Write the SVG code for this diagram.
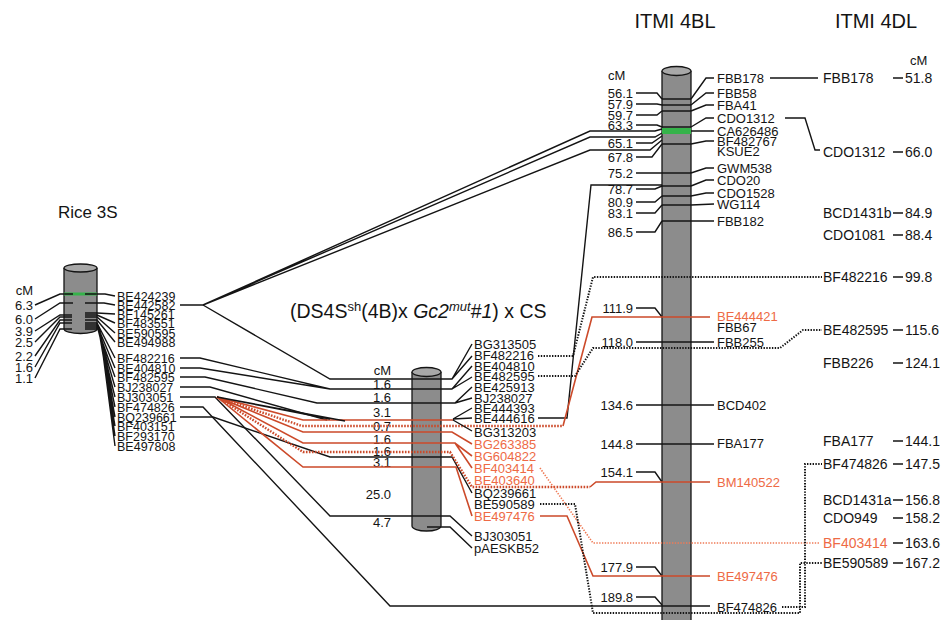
<svg xmlns="http://www.w3.org/2000/svg" width="944" height="620" viewBox="0 0 944 620">
<style>
text{font-family:"Liberation Sans",Arial,sans-serif;fill:#141414}
.t{font-size:13px}
.s{font-size:12.5px}
.t4{font-size:14px}
.e{text-anchor:end}
.rt{fill:#ee6a45}
.ttl{font-size:20px}
.k{fill:none;stroke:#141414;stroke-width:1.4}
.r{fill:none;stroke:#cc4a2a;stroke-width:1.6}
.rd{fill:none;stroke:#cc4a2a;stroke-width:2.4;stroke-dasharray:1.6 1.4}
.rdt{fill:none;stroke:#ef7a55;stroke-width:1.6;stroke-dasharray:1.4 1.4}
.kd{fill:none;stroke:#141414;stroke-width:2;stroke-dasharray:1.4 1.4}
.body{fill:#8c8c8c}
.top{fill:#a8a8a8;stroke:#141414;stroke-width:1.3}
.out{fill:none;stroke:#141414;stroke-width:1.3}
.grn{fill:#35b34a}
</style>

<g id="rice3S">
  <text x="58" y="218" style="font-size:17px">Rice 3S</text>
  <rect class="body" x="64" y="268" width="33" height="61"/>
  <path class="body" d="M64,329 A16.5,4.5 0 0 0 97,329 Z"/>
  <path class="out" d="M64,268 V329 A16.5,4.5 0 0 0 97,329 V268"/>
  <ellipse class="top" cx="80.5" cy="268" rx="16.5" ry="4"/>
  <rect class="grn" x="64" y="292.5" width="33" height="3"/>
  <text class="t e" x="33" y="295">cM</text>
  <text class="t e" x="33" y="309.5">6.3</text>
  <text class="t e" x="33" y="323.5">6.0</text>
  <text class="t e" x="33" y="335.5">3.9</text>
  <text class="t e" x="33" y="346.5">2.5</text>
  <text class="t e" x="33" y="360.5">2.2</text>
  <text class="t e" x="33" y="371.5">1.6</text>
  <text class="t e" x="33" y="382.5">1.1</text>
  <path class="k" d="M35,305 L60,294 H73 M35,319 L60,303 H73 M35,331 L60,315 H72 M35,342 L60,317 H72 M35,356 L60,320 H72 M35,367 L60,323 H72 M35,378 L60,329 H72"/>
  <path class="k" d="M85,294 H105 L115,296 M85,303 H104 L115,305 M85,313 H97 L115,314 M85,315 H97 L115,323 M85,317 H97 L115,333 M85,320 H97 L115,342 M85,323 H97 L115,358 M85,325 H97 L115,368 M85,327 H97 L115,377 M85,329 H98 L115,387 M98,329 L115,397 M99,330 L115,407 M99,330 L115,417 M99,331 L115,426 M100,331 L115,436 M100,331 L115,446"/>
  <text class="t s" x="117" y="300.5">BE424239</text>
  <text class="t s" x="117" y="309.5">BE442582</text>
  <text class="t s" x="117" y="318.5">BF145261</text>
  <text class="t s" x="117" y="327.5">BF483551</text>
  <text class="t s" x="117" y="337.5">BE590595</text>
  <text class="t s" x="117" y="346.5">BE494988</text>
  <text class="t s" x="117" y="362.5">BF482216</text>
  <text class="t s" x="117" y="372.5">BE404810</text>
  <text class="t s" x="117" y="381.5">BF482595</text>
  <text class="t s" x="117" y="391.5">BJ238027</text>
  <text class="t s" x="117" y="401.5">BJ303051</text>
  <text class="t s" x="117" y="411.5">BF474826</text>
  <text class="t s" x="117" y="421.5">BQ239661</text>
  <text class="t s" x="117" y="430.5">BF403151</text>
  <text class="t s" x="117" y="440.5">BF293170</text>
  <text class="t s" x="117" y="450.5">BE497808</text>
</g>

<g id="ds4s-map">
  <text x="290" y="318" style="font-size:19.5px">(DS4S<tspan dy="-7" style="font-size:13px">sh</tspan><tspan dy="7">(4B)x </tspan><tspan font-style="italic">Gc2</tspan><tspan dy="-7" style="font-size:13px" font-style="italic">mut</tspan><tspan dy="7">#</tspan><tspan font-style="italic">1</tspan>) x CS</text>
  <rect class="body" x="412" y="372" width="29" height="154"/>
  <path class="body" d="M412,526 A14.5,5 0 0 0 441,526 Z"/>
  <path class="out" d="M412,372 V526 A14.5,5 0 0 0 441,526 V372"/>
  <ellipse class="top" cx="426.5" cy="372" rx="14.5" ry="4.5"/>
  <text class="t e" x="391" y="374.5">cM</text>
  <text class="t e" x="391" y="388.5">1.6</text>
  <text class="t e" x="391" y="401.5">1.6</text>
  <text class="t e" x="391" y="416.5">3.1</text>
  <text class="t e" x="391" y="430.5">0.7</text>
  <text class="t e" x="391" y="443.5">1.6</text>
  <text class="t e" x="391" y="455.5">1.6</text>
  <text class="t e" x="391" y="467">3.1</text>
  <text class="t e" x="391" y="498.5">25.0</text>
  <text class="t e" x="391" y="526.5">4.7</text>
  <text class="t" x="474" y="348.5">BG313505</text>
  <text class="t" x="474" y="359.5">BF482216</text>
  <text class="t" x="474" y="370.5">BE404810</text>
  <text class="t" x="474" y="380.5">BE482595</text>
  <text class="t" x="474" y="391.5">BE425913</text>
  <text class="t" x="474" y="402.5">BJ238027</text>
  <text class="t" x="474" y="412.5">BE444393</text>
  <text class="t" x="474" y="422.5">BE444616</text>
  <text class="t" x="474" y="436.5">BG313203</text>
  <text class="t rt" x="474" y="448.5">BG263385</text>
  <text class="t rt" x="474" y="460.5">BG604822</text>
  <text class="t rt" x="474" y="472.5">BF403414</text>
  <text class="t rt" x="474" y="484.5">BE403640</text>
  <text class="t" x="474" y="497.5">BQ239661</text>
  <text class="t" x="474" y="508.5">BE590589</text>
  <text class="t rt" x="474" y="520.5">BE497476</text>
  <text class="t" x="474" y="540.5">BJ303051</text>
  <text class="t" x="474" y="552.5">pAESKB52</text>
</g>

<g id="itmi4BL">
  <text class="ttl" x="675" y="28" text-anchor="middle">ITMI 4BL</text>
  <rect class="body" x="662" y="71" width="29" height="549"/>
  <path class="out" d="M662,71 V620 M691,71 V620"/>
  <ellipse class="top" cx="676.5" cy="71" rx="14.5" ry="4.5"/>
  <rect class="grn" x="662" y="128" width="29" height="6"/>
  <path class="k" d="M662,99 H691 M662,105 H691 M662,111 H691 M662,127 H691 M662,144 H691 M662,173 H691 M662,186 H691 M662,196 H691 M662,205 H691 M662,221 H691"/>
  <text class="t" x="608" y="80">cM</text>
  <text class="t e" x="633" y="97.5">56.1</text>
  <text class="t e" x="633" y="108.5">57.9</text>
  <text class="t e" x="633" y="119.5">59.7</text>
  <text class="t e" x="633" y="129.5">63.3</text>
  <text class="t e" x="633" y="147.5">65.1</text>
  <text class="t e" x="633" y="161.5">67.8</text>
  <text class="t e" x="633" y="177.5">75.2</text>
  <text class="t e" x="633" y="194">78.7</text>
  <text class="t e" x="633" y="206.5">80.9</text>
  <text class="t e" x="633" y="217.5">83.1</text>
  <text class="t e" x="633" y="236.5">86.5</text>
  <text class="t e" x="633" y="312.5">111.9</text>
  <text class="t e" x="633" y="346.5">118.0</text>
  <text class="t e" x="633" y="409.5">134.6</text>
  <text class="t e" x="633" y="448.5">144.8</text>
  <text class="t e" x="633" y="476.5">154.1</text>
  <text class="t e" x="633" y="571.5">177.9</text>
  <text class="t e" x="633" y="601.5">189.8</text>
  <path class="k" d="M636,93 H657 L662,99 M636,104 H657 L662,105 M636,115 H657 L662,111 M636,125 H657 L662,127 M636,143 H652 L662,136 M636,157 H652 L662,144 M636,173 H662 M636,189 H655 L662,186 M636,202 H655 L662,196 M636,213 H655 L662,205 M636,232 H655 L662,221 M636,308 H655 L662,317 M636,342 H714 M636,405 H714 M636,444 H714 M636,472 H655 L662,482 M636,567 H655 L662,576 M636,597 H655 L662,605"/>
  <path class="k" d="M714,78 H706 L691,99 M714,93 H706 L691,105 M714,105 H706 L691,111 M714,118 H706 L691,127 M714,131 H706 L691,131 M714,141 H706 L691,144 M714,168 H706 L691,173 M714,180 H706 L691,186 M714,193 H706 L691,196 M714,204 L691,205 M714,221 H691"/>
  <text class="t" x="717" y="82.5">FBB178</text>
  <text class="t" x="717" y="97.5">FBB58</text>
  <text class="t" x="717" y="109.5">FBA41</text>
  <text class="t" x="717" y="122.5">CDO1312</text>
  <text class="t" x="717" y="135.5">CA626486</text>
  <text class="t" x="717" y="145.5">BF482767</text>
  <text class="t" x="717" y="155.5">KSUE2</text>
  <text class="t" x="717" y="172.5">GWM538</text>
  <text class="t" x="717" y="184.5">CDO20</text>
  <text class="t" x="717" y="197.5">CDO1528</text>
  <text class="t" x="717" y="208.5">WG114</text>
  <text class="t" x="717" y="225.5">FBB182</text>
  <text class="t rt" x="717" y="321">BE444421</text>
  <text class="t" x="717" y="332">FBB67</text>
  <text class="t" x="717" y="346.5">FBB255</text>
  <text class="t" x="717" y="409.5">BCD402</text>
  <text class="t" x="717" y="448">FBA177</text>
  <text class="t rt" x="717" y="486.5">BM140522</text>
  <text class="t rt" x="717" y="580.5">BE497476</text>
  <text class="t" x="717" y="611.5">BF474826</text>
</g>

<g id="itmi4DL">
  <text class="ttl" x="876" y="28" text-anchor="middle">ITMI 4DL</text>
  <text class="t" x="910" y="65">cM</text>
  <path class="k" d="M893,78 H903 M893,152 H903 M893,213 H903 M893,235 H903 M893,277 H903 M893,330 H903 M893,363 H903 M893,441 H903 M893,464 H903 M893,500 H903 M893,518 H903 M893,543 H903 M893,563 H903"/>
  <text class="t4" x="823" y="83">FBB178</text><text class="t4" x="905" y="83">51.8</text>
  <text class="t4" x="823" y="157">CDO1312</text><text class="t4" x="905" y="157">66.0</text>
  <text class="t4" x="823" y="218">BCD1431b</text><text class="t4" x="905" y="218">84.9</text>
  <text class="t4" x="823" y="240">CDO1081</text><text class="t4" x="905" y="240">88.4</text>
  <text class="t4" x="823" y="282">BF482216</text><text class="t4" x="905" y="282">99.8</text>
  <text class="t4" x="823" y="335">BE482595</text><text class="t4" x="905" y="335">115.6</text>
  <text class="t4" x="823" y="368">FBB226</text><text class="t4" x="905" y="368">124.1</text>
  <text class="t4" x="823" y="446">FBA177</text><text class="t4" x="905" y="446">144.1</text>
  <text class="t4" x="823" y="469">BF474826</text><text class="t4" x="905" y="469">147.5</text>
  <text class="t4" x="823" y="505">BCD1431a</text><text class="t4" x="905" y="505">156.8</text>
  <text class="t4" x="823" y="523">CDO949</text><text class="t4" x="905" y="523">158.2</text>
  <text class="t4 rt" x="823" y="548">BF403414</text><text class="t4" x="905" y="548">163.6</text>
  <text class="t4" x="823" y="568">BE590589</text><text class="t4" x="905" y="568">167.2</text>
</g>

<g id="connectors">
  <path class="k" d="M180,305 H203 M203,305 L590,131 H655 L662,129 M203,305 L590,137 H655 L662,133 M203,305 L590,150 H650 L662,140"/>
  <path class="k" d="M203,305 L330,379 H452 L472,344 M452,379 L472,356"/>
  <path class="k" d="M180,358 H200 L330,389 H452 L472,366 M180,368 H200 L330,389 M452,389 L472,377"/>
  <path class="k" d="M180,377 H205 L317,403 H455 L472,387 M455,403 L472,398"/>
  <path class="k" d="M180,387 H210 L327,420"/>
  <path class="k" d="M180,397 H215 L330,516 H450 L472,536 M427,527 H450 L472,548"/>
  <path class="k" d="M180,407 H203 L390,606 H710"/>
  <path class="k" d="M180,417 H213 L330,457 H452 L472,493"/>
  <path class="r" d="M217,397 L303,420 H453 M217,397 L303,432 H452 L472,444 M217,397 L303,443 H455 L472,456 M455,443 L472,468 M217,397 L303,467 H456 L472,516"/>
  <path class="rd" d="M217,397 L302,426 H563 M217,397 L303,452 H450 L472,487 H590"/>
  <path class="k" d="M217,397 L330,419 M217,397 L345,421 M453,419 L472,408 M453,419 L472,418 M453,420 L472,431"/>
  <path class="k" d="M538,418 H567 L591,185 H662"/>
  <path class="r" d="M563,426 L592,317 H710 M590,487 L596,482 H710 M540,516 H567 L593,576 H710"/>
  <path class="rdt" d="M540,468 L593,543 H820"/>
  <path class="kd" d="M538,356 H573 L593,277 H822 M538,376 H575 L593,348 H780 L803,330 H822 M540,504 H575 L593,613 H800 V563 H822 M782,607 H805 V464 H822"/>
  <path class="k" d="M770,78 H818 M785,118 H805 L815,150 H820"/>
</g>
</svg>
